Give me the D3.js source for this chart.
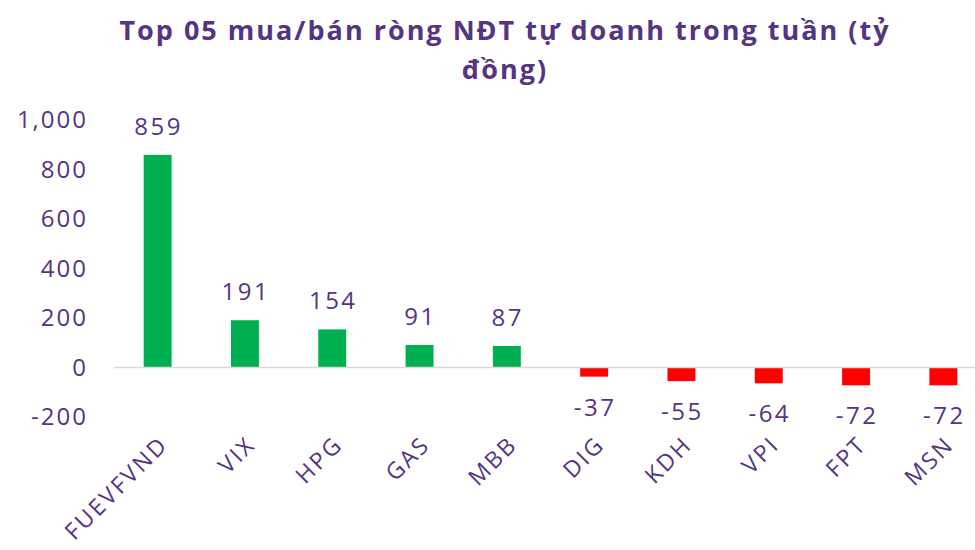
<!DOCTYPE html>
<html>
<head>
<meta charset="utf-8">
<script src="https://cdn.jsdelivr.net/npm/d3@7"></script>
<style>
  body { margin: 0; background: #fff; }
  svg { display: block; font-family: "Open Sans", Lato, sans-serif; }
</style>
</head>
<body>
<svg id="chart" width="975" height="550"></svg>
<script>
// data
const categories = ['FUEVFVND', 'VIX', 'HPG', 'GAS', 'MBB', 'DIG', 'KDH', 'VPI', 'FPT', 'MSN'];
const values = [859, 191, 154, 91, 87, -37, -55, -64, -72, -72];
const yTicks = [-200, 0, 200, 400, 600, 800, 1000];
const titleLines = ['Top 05 mua/bán ròng NĐT tự doanh trong tuần (tỷ', 'đồng)'];

const purple = '#553481';
const svg = d3.select('#chart');

const x = d3.scaleBand()
    .domain(categories)
    .range([114, 987])
    .paddingInner(0.68)
    .paddingOuter(0.34);

const y = d3.scaleLinear()
    .domain([-200, 1000])
    .range([417, 120]);

const fmt = d => d3.format(',')(d).replace('−', '-');

// title
svg.append('text')
    .attr('x', 505)
    .attr('y', 40)
    .attr('text-anchor', 'middle')
    .style('font-size', '27px')
    .style('font-weight', 'bold')
    .style('letter-spacing', '2px')
    .style('fill', purple)
    .selectAll('tspan')
    .data(titleLines)
    .join('tspan')
    .attr('x', 505)
    .attr('dy', (d, i) => i === 0 ? 0 : 39)
    .text(d => d);

// y axis labels
const yAxis = svg.append('g')
    .attr('transform', 'translate(88,0)')
    .call(d3.axisLeft(y).tickValues(yTicks).tickFormat(fmt).tickSize(0).tickPadding(0));
yAxis.select('.domain').remove();
yAxis.selectAll('text')
    .style('font-family', '"Open Sans", Lato, sans-serif')
    .style('font-size', '24px')
    .style('letter-spacing', '2px')
    .style('fill', purple);

// bars
svg.append('g')
    .selectAll('rect')
    .data(values)
    .join('rect')
    .attr('x', (d, i) => x(categories[i]))
    .attr('width', x.bandwidth())
    .attr('y', d => y(Math.max(0, d)))
    .attr('height', d => Math.abs(y(d) - y(0)))
    .attr('fill', d => d >= 0 ? '#00b050' : '#ff0000');

// zero line
svg.append('line')
    .attr('x1', 114).attr('x2', 975)
    .attr('y1', y(0)).attr('y2', y(0))
    .attr('stroke', '#d9d9d9')
    .attr('stroke-width', 1.5);

// value labels
svg.append('g')
    .selectAll('text')
    .data(values)
    .join('text')
    .attr('x', (d, i) => x(categories[i]) + x.bandwidth() / 2 + 1)
    .attr('y', d => d >= 0 ? y(d) - 20 : y(d) + 39)
    .attr('text-anchor', 'middle')
    .style('font-size', '24px')
    .style('letter-spacing', '2.5px')
    .style('fill', purple)
    .text(fmt);

// category labels, rotated
svg.append('g')
    .selectAll('text')
    .data(categories)
    .join('text')
    .attr('text-anchor', 'end')
    .attr('transform', d => `translate(${x(d) + x.bandwidth() / 2 + 12},${446}) rotate(-45)`)
    .style('font-size', '23px')
    .style('letter-spacing', '2.5px')
    .style('fill', purple)
    .text(d => d);
</script>
</body>
</html>
